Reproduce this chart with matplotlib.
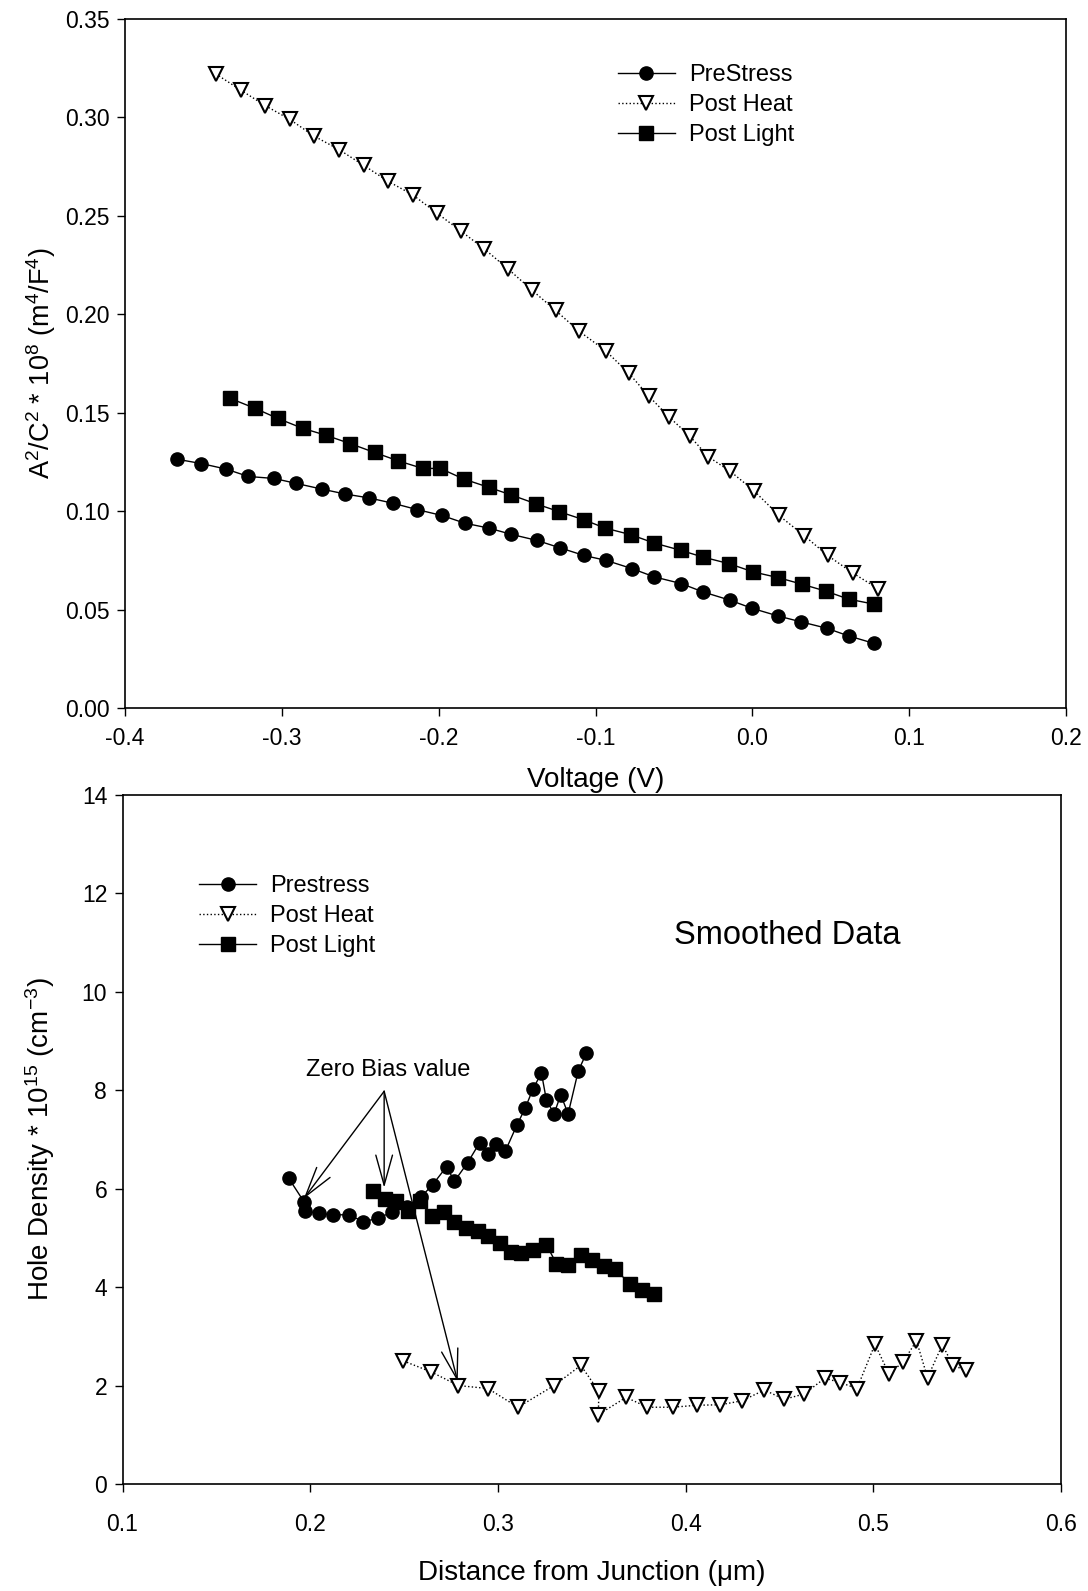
import matplotlib
matplotlib.use("Agg")
import matplotlib.pyplot as plt
from matplotlib.ticker import MultipleLocator, FormatStrFormatter

plt.rcParams['font.family'] = ['Liberation Sans', 'DejaVu Sans']
plt.rcParams['mathtext.default'] = 'regular'
plt.rcParams['axes.unicode_minus'] = False

# ---------------- Top panel data (Voltage vs A^2/C^2) ----------------
v_pre = [-0.3670, -0.3515, -0.3357, -0.3213, -0.3049, -0.2909, -0.2745, -0.2596, -0.2443, -0.2291,
         -0.2138, -0.1979, -0.1834, -0.1681, -0.1536, -0.1372, -0.1228, -0.1074, -0.0933, -0.0767,
         -0.0625, -0.0453, -0.0316, -0.0144, 0.0000, 0.0166, 0.0309, 0.0475, 0.0614, 0.0773]
c_pre = [0.1264, 0.1242, 0.1214, 0.1176, 0.1166, 0.1141, 0.1112, 0.1087, 0.1067, 0.1040,
         0.1008, 0.0978, 0.0939, 0.0914, 0.0882, 0.0851, 0.0814, 0.0775, 0.0750, 0.0708,
         0.0666, 0.0632, 0.0590, 0.0548, 0.0506, 0.0467, 0.0438, 0.0405, 0.0366, 0.0329]

v_heat = [-0.3421, -0.3262, -0.3106, -0.2951, -0.2794, -0.2636, -0.2479, -0.2321, -0.2166, -0.2011,
          -0.1857, -0.1709, -0.1557, -0.1404, -0.1255, -0.1106, -0.0936, -0.0788, -0.0660, -0.0530,
          -0.0400, -0.0280, -0.0140, 0.0010, 0.0170, 0.0330, 0.0480, 0.0640, 0.0800]
c_heat = [0.3221, 0.3139, 0.3060, 0.2991, 0.2905, 0.2837, 0.2757, 0.2675, 0.2607, 0.2514,
          0.2422, 0.2332, 0.2230, 0.2122, 0.2020, 0.1915, 0.1815, 0.1701, 0.1584, 0.1478,
          0.1382, 0.1276, 0.1202, 0.1104, 0.0978, 0.0876, 0.0775, 0.0686, 0.0607]

v_light = [-0.3330, -0.3170, -0.3026, -0.2868, -0.2717, -0.2564, -0.2409, -0.2260, -0.2102, -0.1989,
           -0.1840, -0.1681, -0.1536, -0.1379, -0.1234, -0.1074, -0.0939, -0.0773, -0.0630, -0.0457,
           -0.0316, -0.0148, 0.0007, 0.0166, 0.0316, 0.0471, 0.0614, 0.0773]
c_light = [0.1573, 0.1522, 0.1471, 0.1421, 0.1385, 0.1343, 0.1298, 0.1256, 0.1217, 0.1217,
           0.1163, 0.1121, 0.1082, 0.1037, 0.0998, 0.0956, 0.0914, 0.0880, 0.0839, 0.0801,
           0.0767, 0.0733, 0.0691, 0.0662, 0.0629, 0.0593, 0.0553, 0.0528]

# ---------------- Bottom panel data (Distance vs Hole density) ----------------
d_pre = [0.1886, 0.1966, 0.1972, 0.2046, 0.2123, 0.2207, 0.2283, 0.2362, 0.2438, 0.2515,
         0.2590, 0.2652, 0.2727, 0.2768, 0.2839, 0.2902, 0.2947, 0.2991, 0.3039, 0.3102,
         0.3146, 0.3187, 0.3232, 0.3258, 0.3299, 0.3335, 0.3374, 0.3428, 0.3472]
h_pre = [6.21, 5.74, 5.55, 5.50, 5.47, 5.47, 5.33, 5.40, 5.53, 5.62,
         5.83, 6.08, 6.45, 6.15, 6.53, 6.93, 6.71, 6.91, 6.76, 7.30,
         7.64, 8.03, 8.35, 7.81, 7.52, 7.91, 7.52, 8.39, 8.76]

d_heat = [0.2497, 0.2643, 0.2790, 0.2947, 0.3107, 0.3299, 0.3442, 0.3538, 0.3535, 0.3683,
          0.3797, 0.3932, 0.4061, 0.4185, 0.4300, 0.4420, 0.4525, 0.4632, 0.4742, 0.4825,
          0.4913, 0.5009, 0.5083, 0.5157, 0.5230, 0.5289, 0.5368, 0.5424, 0.5494]
h_heat = [2.50, 2.28, 2.00, 1.94, 1.56, 2.00, 2.41, 1.88, 1.41, 1.76,
          1.56, 1.56, 1.60, 1.61, 1.69, 1.91, 1.72, 1.83, 2.15, 2.06,
          1.94, 2.84, 2.24, 2.47, 2.91, 2.16, 2.83, 2.41, 2.31]

d_light = [0.2332, 0.2400, 0.2455, 0.2520, 0.2585, 0.2649, 0.2715, 0.2768, 0.2831, 0.2893,
           0.2947, 0.3009, 0.3068, 0.3125, 0.3187, 0.3258, 0.3312, 0.3374, 0.3442, 0.3499,
           0.3567, 0.3624, 0.3704, 0.3767, 0.3829]
h_light = [5.96, 5.80, 5.76, 5.55, 5.76, 5.45, 5.53, 5.33, 5.20, 5.14,
           5.04, 4.89, 4.72, 4.69, 4.75, 4.86, 4.48, 4.45, 4.65, 4.55,
           4.43, 4.36, 4.07, 3.94, 3.87]

top_labels = ['PreStress', 'Post Heat', 'Post Light']
bot_labels = ['Prestress', 'Post Heat', 'Post Light']

# Zero-bias annotation: text anchor and arrow targets
zb_text_xy = (0.2415, 8.42)
zb_apex = (0.2394, 7.98)
zb_targets = [(0.1966, 5.80), (0.2394, 6.02), (0.2786, 2.08)]

W, H = 1088, 1591
fig = plt.figure(figsize=(W / 100, H / 100), dpi=100)
fig.patch.set_facecolor('white')

def px_axes(l, r, t, b):
    return fig.add_axes([l / W, (H - b) / H, (r - l) / W, (b - t) / H])

ax1 = px_axes(125, 1066, 19, 708)
ax2 = px_axes(122.5, 1061, 795, 1484)

TICK_FS = 16.5
LAB_FS = 20
LEG_FS = 17
ms_c, ms_s, ms_t = 9.5, 9.5, 10.5

def style(ax):
    for s in ax.spines.values():
        s.set_linewidth(1.2)
    ax.tick_params(axis='both', which='both', direction='out', length=6, width=1.0,
                   labelsize=TICK_FS, top=False, right=False)

# ---------------- Top panel ----------------
ax1.plot(v_pre, c_pre, '-', color='black', lw=1.0, marker='o', ms=ms_c, mfc='black', mec='black',
         label=top_labels[0])
ax1.plot(v_heat, c_heat, ':', color='black', lw=1.0, marker='v', ms=ms_t, mfc='white', mec='black',
         mew=1.5, label=top_labels[1])
ax1.plot(v_light, c_light, '-', color='black', lw=1.0, marker='s', ms=ms_s, mfc='black', mec='black',
         label=top_labels[2])
ax1.set_xlim(-0.4, 0.2)
ax1.set_ylim(0.0, 0.35)
ax1.xaxis.set_major_locator(MultipleLocator(0.1))
ax1.yaxis.set_major_locator(MultipleLocator(0.05))
ax1.xaxis.set_major_formatter(FormatStrFormatter('%.1f'))
ax1.yaxis.set_major_formatter(FormatStrFormatter('%.2f'))
style(ax1)
ax1.tick_params(axis='x', pad=8)
ax1.tick_params(axis='y', pad=5)
ax1.set_xlabel('Voltage (V)', fontsize=LAB_FS)
ax1.set_ylabel(r'A$^2$/C$^2$ * 10$^8$ (m$^4$/F$^4$)', fontsize=19.5)
ax1.xaxis.set_label_coords(0.5, -0.085)
ax1.yaxis.set_label_coords(-0.071, 0.5)
leg1 = ax1.legend(loc='upper left', bbox_to_anchor=(0.524, 0.935), frameon=False, fontsize=LEG_FS,
                  handlelength=2.4, handletextpad=0.6, labelspacing=0.34, borderpad=0,
                  borderaxespad=0, numpoints=1)

# ---------------- Bottom panel ----------------
ax2.plot(d_heat, h_heat, ':', color='black', lw=1.0, marker='v', ms=ms_t, mfc='white', mec='black',
         mew=1.5, label=bot_labels[1])
ax2.plot(d_pre, h_pre, '-', color='black', lw=1.0, marker='o', ms=ms_c, mfc='black', mec='black',
         label=bot_labels[0])
ax2.plot(d_light, h_light, '-', color='black', lw=1.0, marker='s', ms=ms_s, mfc='black', mec='black',
         label=bot_labels[2])
ax2.set_xlim(0.1, 0.6)
ax2.set_ylim(0, 14)
ax2.xaxis.set_major_locator(MultipleLocator(0.1))
ax2.yaxis.set_major_locator(MultipleLocator(2))
ax2.xaxis.set_major_formatter(FormatStrFormatter('%.1f'))
ax2.yaxis.set_major_formatter(FormatStrFormatter('%d'))
style(ax2)
ax2.tick_params(axis='x', pad=15)
ax2.tick_params(axis='y', pad=5)
ax2.set_xlabel('Distance from Junction (\u03bcm)', fontsize=LAB_FS)
ax2.set_ylabel(r'Hole Density * 10$^{15}$ (cm$^{-3}$)', fontsize=20)
ax2.xaxis.set_label_coords(0.5, -0.11)
ax2.yaxis.set_label_coords(-0.07, 0.5)
h, l = ax2.get_legend_handles_labels()
order = [1, 0, 2]
leg2 = ax2.legend([h[i] for i in order], [l[i] for i in order], loc='upper left',
                  bbox_to_anchor=(0.082, 0.884), frameon=False, fontsize=LEG_FS,
                  handlelength=2.4, handletextpad=0.6, labelspacing=0.34, borderpad=0,
                  borderaxespad=0, numpoints=1)

ax2.text(0.454, 11.14, 'Smoothed Data', fontsize=23.5, ha='center', va='center')
ax2.text(zb_text_xy[0], zb_text_xy[1], 'Zero Bias value', fontsize=17, ha='center', va='center')
for tgt in zb_targets:
    ax2.annotate('', xy=tgt, xytext=zb_apex,
                 arrowprops=dict(arrowstyle='->,head_length=1.8,head_width=0.5', lw=1.0,
                                 color='black', mutation_scale=12, shrinkA=0, shrinkB=0))

fig.savefig('out.png', dpi=100, facecolor='white')
